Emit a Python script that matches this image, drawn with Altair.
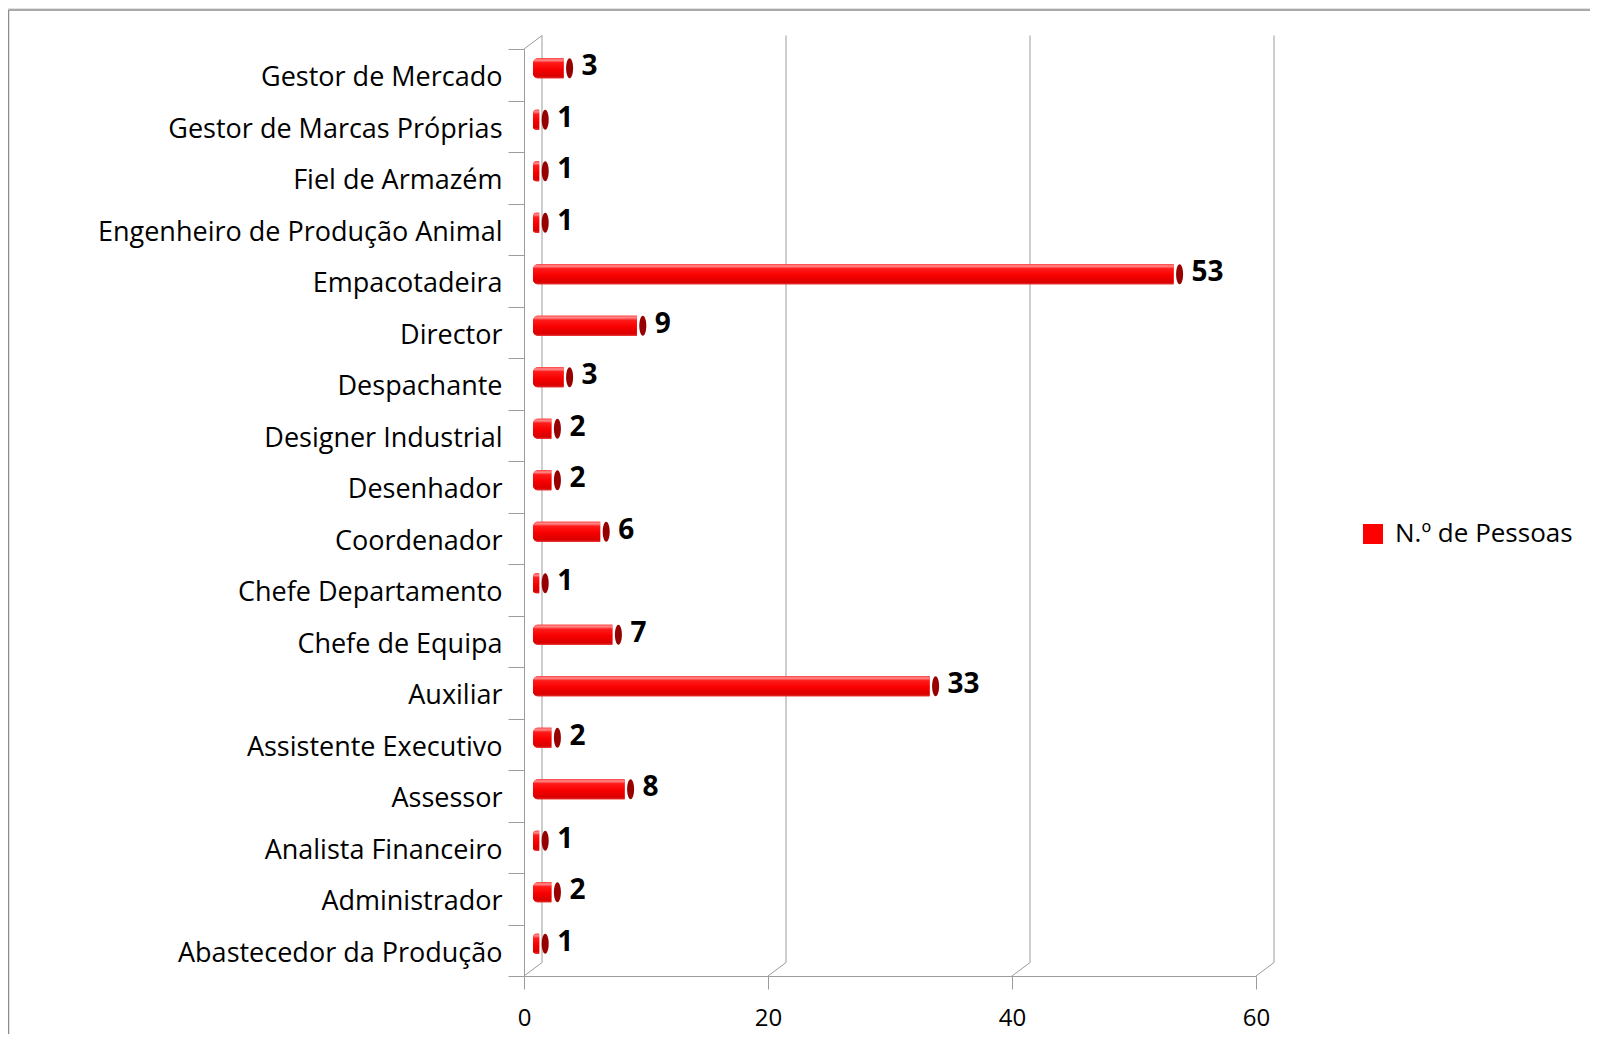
import altair as alt
import pandas as pd

# ---- data ----
categories = [
    "Gestor de Mercado",
    "Gestor de Marcas Próprias",
    "Fiel de Armazém",
    "Engenheiro de Produção Animal",
    "Empacotadeira",
    "Director",
    "Despachante",
    "Designer Industrial",
    "Desenhador",
    "Coordenador",
    "Chefe Departamento",
    "Chefe de Equipa",
    "Auxiliar",
    "Assistente Executivo",
    "Assessor",
    "Analista Financeiro",
    "Administrador",
    "Abastecedor da Produção",
]
values = [3, 1, 1, 1, 53, 9, 3, 2, 2, 6, 1, 7, 33, 2, 8, 1, 2, 1]
x_ticks = [0, 20, 40, 60]
series_name = "N.º de Pessoas"

df = pd.DataFrame({"cargo": categories, "n": values, "serie": [series_name] * len(categories)})
grid_df = pd.DataFrame({"t": x_ticks})

# ---- layout / style ----
W, H = 732, 927
DX, DY = 18, 13.5          # 3-D depth of the back wall
MX, MY = 9, -6.5           # bars sit at mid-depth
GRID = "#9c9c9c"
FONT = "Open Sans"

x_scale = alt.Scale(domain=[0, 60], nice=False, zero=True)
y_scale = alt.Scale(paddingInner=0, paddingOuter=0)

x_axis = alt.Axis(values=x_ticks, title=None, grid=False, domainColor=GRID, tickColor=GRID,
                  tickSize=13, labelFont=FONT, labelFontSize=24, labelColor="black",
                  labelPadding=17, labelFlush=False, format="d")
y_axis = alt.Axis(title=None, grid=False, domainColor=GRID, tickColor=GRID, tickBand="extent",
                  tickSize=16, labelFont=FONT, labelFontSize=27, labelColor="black",
                  labelPadding=6, labelLimit=600, labelBaseline="middle", labelOffset=3)


def xq(field):
    return alt.X(field, type="quantitative", scale=x_scale, axis=x_axis)


y_enc = alt.Y("cargo:N", sort=categories, scale=y_scale, axis=y_axis)

# frame of the chart area (decoration)
frame_df = pd.DataFrame({"k": [0]})
frame_left = alt.Chart(frame_df).mark_rule(color="#8c8c8c", strokeWidth=1.5).encode(
    x=alt.value(-515.5), y=alt.value(-39), y2=alt.value(H + 60))
frame_top = alt.Chart(frame_df).mark_rule(color="#8c8c8c", strokeWidth=1.5).encode(
    x=alt.value(-515.5), x2=alt.value(W + 340), y=alt.value(-39))
frame_strip = alt.Chart(frame_df).mark_rect(color="#e2e2e2").encode(
    x=alt.value(-520), x2=alt.value(W + 340), y=alt.value(-45), y2=alt.value(-40))

# back wall gridlines
back_grid = alt.Chart(grid_df).mark_rule(color=GRID, strokeWidth=1, xOffset=DX).encode(
    x=xq("t"), y=alt.value(-DY), y2=alt.value(H - DY))

# floor depth lines
floor_diag = alt.Chart(grid_df).mark_rule(color=GRID, strokeWidth=1, x2Offset=DX).encode(
    x=xq("t"), x2=alt.X2("t"), y=alt.value(H), y2=alt.value(H - DY))

# left wall top depth line
wall_top = alt.Chart(grid_df).transform_filter("datum.t == 0").mark_rule(
    color=GRID, strokeWidth=1, x2Offset=DX).encode(
    x=xq("t"), x2=alt.X2("t"), y=alt.value(0), y2=alt.value(-DY))

# bars: flat layer carrying the legend
bars_flat = alt.Chart(df).mark_bar(
    size=20, xOffset=3, x2Offset=MX, yOffset=MY,
    cornerRadiusTopLeft=5, cornerRadiusBottomLeft=5).encode(
    x=xq("n"),
    x2=alt.datum(0),
    y=y_enc,
    color=alt.Color("serie:N", scale=alt.Scale(range=["#ff0000"]),
                    legend=alt.Legend(title=None, orient="none", legendX=836, legendY=472,
                                      symbolType="square", symbolSize=400, symbolStrokeWidth=0,
                                      labelFont=FONT, labelFontSize=26, labelColor="black",
                                      labelOffset=9, padding=0, labelLimit=400)))

grad = alt.LinearGradient(
    gradient="linear", x1=0, x2=0, y1=0, y2=1,
    stops=[alt.GradientStop(color="#ff5050", offset=0),
           alt.GradientStop(color="#ff8a8a", offset=0.1),
           alt.GradientStop(color="#ff1a1a", offset=0.22),
           alt.GradientStop(color="#f80000", offset=0.55),
           alt.GradientStop(color="#d90000", offset=0.9),
           alt.GradientStop(color="#e23030", offset=1)])

bars_grad = alt.Chart(df).mark_bar(
    size=20, xOffset=3, x2Offset=MX, yOffset=MY, fill=grad,
    cornerRadiusTopLeft=5, cornerRadiusBottomLeft=5).encode(
    x=xq("n"),
    x2=alt.datum(0),
    y=y_enc)

ellipse = "M0,-1 A0.35,1 0 0 1 0,1 A0.35,1 0 0 1 0,-1 Z"
caps = alt.Chart(df).mark_point(
    shape=ellipse, filled=True, color="#960000", opacity=1, size=400,
    xOffset=MX, yOffset=MY).encode(
    x=xq("n"),
    y=y_enc)

labels = alt.Chart(df).mark_text(
    align="left", baseline="middle", font=FONT, fontWeight="bold", fontSize=28,
    color="black", xOffset=MX + 12, yOffset=MY - 1).encode(
    x=xq("n"),
    y=y_enc,
    text=alt.Text("n:Q"))

chart = alt.layer(
    frame_strip, frame_left, frame_top, back_grid, floor_diag, wall_top,
    bars_flat, bars_grad, caps, labels
).properties(
    width=W, height=H,
    padding={"left": 516, "top": 41, "right": 334, "bottom": 58},
    autosize=alt.AutoSizeParams(type="none"),
    background="white",
).configure_view(strokeWidth=0)

chart.save("out.html", embed_options={"renderer": "svg", "actions": False})
